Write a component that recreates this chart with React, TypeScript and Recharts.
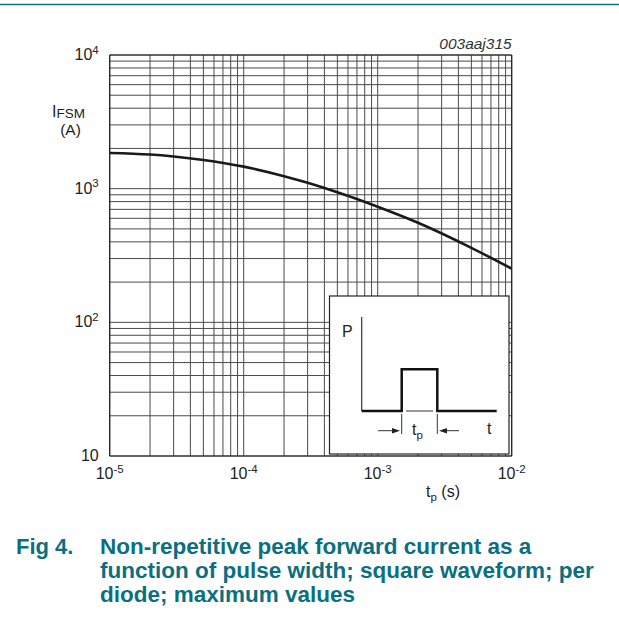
import React from "react";
import { LineChart, Line, XAxis, YAxis, ReferenceLine } from "recharts";

const pulseWidths = [1e-5, 2e-5, 3e-5, 5e-5, 1e-4, 2e-4, 3e-4, 5e-4, 1e-3, 2e-3, 5e-3, 1e-2];
const peakCurrents = [1850, 1800, 1740, 1640, 1462, 1240, 1106, 940, 733, 556, 361, 252];

const xTicks = [1e-5, 1e-4, 1e-3, 1e-2];
const yTicks = [10, 100, 1000, 10000];
const mantissas = [1, 2, 3, 4, 5, 6, 7, 8, 9];
const xDecades = [1e-5, 1e-4, 1e-3];
const yDecades = [10, 100, 1000];

const captionLines = [
  "Non-repetitive peak forward current as a",
  "function of pulse width; square waveform; per",
  "diode; maximum values",
];

const data = pulseWidths.map((t, i) => ({ t, i: peakCurrents[i] }));
const xGrid = [...xDecades.flatMap((d) => mantissas.map((m) => m * d)), 1e-2];
const yGrid = [...yDecades.flatMap((d) => mantissas.map((m) => m * d)), 10000];

const W = 619;
const H = 621;
const PL = 109.7;
const PR = 511.7;
const PT = 55;
const PB = 456;
const TEAL = "#0a6f80";
const FONT = "'Liberation Sans', Arial, Helvetica, sans-serif";
const GRID = "#4a4a4a";

const YTick = (props: any) => {
  const { x, y, payload } = props;
  const exp = Math.round(Math.log10(payload.value));
  return (
    <text x={x} y={y + 5} textAnchor="end" fontSize={16} fill="#222" fontFamily={FONT}>
      10
      {exp > 1 ? (
        <tspan dy={-6.5} fontSize={11.5}>
          {exp}
        </tspan>
      ) : null}
    </text>
  );
};

const XTick = (props: any) => {
  const { x, y, payload } = props;
  const exp = Math.round(Math.log10(payload.value));
  return (
    <text x={x} y={y + 23} textAnchor="middle" fontSize={16} fill="#222" fontFamily={FONT}>
      10
      <tspan dy={-6.5} fontSize={11.5}>
        {"-" + Math.abs(exp)}
      </tspan>
    </text>
  );
};

export default function App() {
  return (
    <div style={{ position: "absolute", left: 0, top: 0, width: W, height: H, background: "#fff", fontFamily: FONT }}>
      <div style={{ position: "absolute", left: 0, top: 0 }}>
        <LineChart
          width={W}
          height={H}
          data={data}
          margin={{ top: PT, right: W - PR, bottom: H - PB - 30, left: PL - 60 }}
        >
          <XAxis
            dataKey="t"
            type="number"
            scale="log"
            domain={[1e-5, 1e-2]}
            ticks={xTicks}
            allowDataOverflow
            height={30}
            tickLine={false}
            tickSize={0}
            tickMargin={0}
            axisLine={{ stroke: "#222", strokeWidth: 1.2 }}
            tick={<XTick />}
            interval={0}
          />
          <YAxis
            dataKey="i"
            type="number"
            scale="log"
            domain={[10, 10000]}
            ticks={yTicks}
            allowDataOverflow
            width={60}
            tickLine={false}
            tickSize={0}
            tickMargin={11}
            axisLine={{ stroke: "#222", strokeWidth: 1.2 }}
            tick={<YTick />}
            interval={0}
          />
          {xGrid.map((v) => (
            <ReferenceLine key={"x" + v} x={v} stroke={GRID} strokeWidth={1} ifOverflow="extendDomain" />
          ))}
          {yGrid.map((v) => (
            <ReferenceLine key={"y" + v} y={v} stroke={GRID} strokeWidth={1} ifOverflow="extendDomain" />
          ))}
          <ReferenceLine x={1e-2} stroke="#222" strokeWidth={1.2} />
          <ReferenceLine y={10000} stroke="#222" strokeWidth={1.2} />
          <Line
            dataKey="i"
            type="monotone"
            stroke="#1a1a1a"
            strokeWidth={2.6}
            dot={false}
            isAnimationActive={false}
          />
        </LineChart>
      </div>
      <svg
        width={W}
        height={H}
        style={{ position: "absolute", left: 0, top: 0, pointerEvents: "none" }}
        fontFamily={FONT}
      >
        <line x1={0} x2={W} y1={4.5} y2={4.5} stroke={TEAL} strokeWidth={1.6} />
        <text x={PR} y={49} textAnchor="end" fontSize={15.5} fontStyle="italic" fill="#333">
          003aaj315
        </text>
        <text x={52} y={116.5} fontSize={16} fill="#222">
          I
          <tspan fontSize={13.5} dy={1}>
            FSM
          </tspan>
        </text>
        <text x={70.5} y={135} fontSize={15.5} fill="#222" textAnchor="middle">
          (A)
        </text>
        <text x={443} y={497} fontSize={16} fill="#222" textAnchor="middle">
          t
          <tspan fontSize={11.5} dy={4}>
            p
          </tspan>
          <tspan dy={-4}> (s)</tspan>
        </text>

        {/* inset */}
        <rect x={329.5} y={296} width={179.5} height={158} fill="#fff" stroke="#222" strokeWidth={1.2} />
        <text x={342} y={337} fontSize={16} fill="#222">
          P
        </text>
        <line x1={361.7} x2={361.7} y1={317} y2={411} stroke="#333" strokeWidth={1.2} />
        <polyline
          points="361.7,411 401.7,411 401.7,369.3 437.3,369.3 437.3,411 496.7,411"
          fill="none"
          stroke="#111"
          strokeWidth={2.5}
        />
        <line x1={406} x2={433} y1={411} y2={411} stroke="#333" strokeWidth={1} />
        <line x1={401.7} x2={401.7} y1={414} y2={434} stroke="#333" strokeWidth={1} />
        <line x1={437.3} x2={437.3} y1={414} y2={434} stroke="#333" strokeWidth={1} />
        <line x1={378} x2={394} y1={430.7} y2={430.7} stroke="#333" strokeWidth={1} />
        <polygon points="400,430.7 392,428 392,433.4" fill="#222" />
        <line x1={445} x2={459} y1={430.7} y2={430.7} stroke="#333" strokeWidth={1} />
        <polygon points="439,430.7 447,428 447,433.4" fill="#222" />
        <text x={412} y={435} fontSize={16} fill="#222">
          t
          <tspan fontSize={11.5} dy={4}>
            p
          </tspan>
        </text>
        <text x={487} y={434} fontSize={16} fill="#222">
          t
        </text>

        {/* caption */}
        <text x={16} y={554} fontSize={22} fontWeight="bold" fill={TEAL}>
          Fig 4.
        </text>
        {captionLines.map((line, k) => (
          <text key={k} x={100} y={554 + k * 24} fontSize={22.5} fontWeight="bold" fill={TEAL}>
            {line}
          </text>
        ))}
      </svg>
    </div>
  );
}
